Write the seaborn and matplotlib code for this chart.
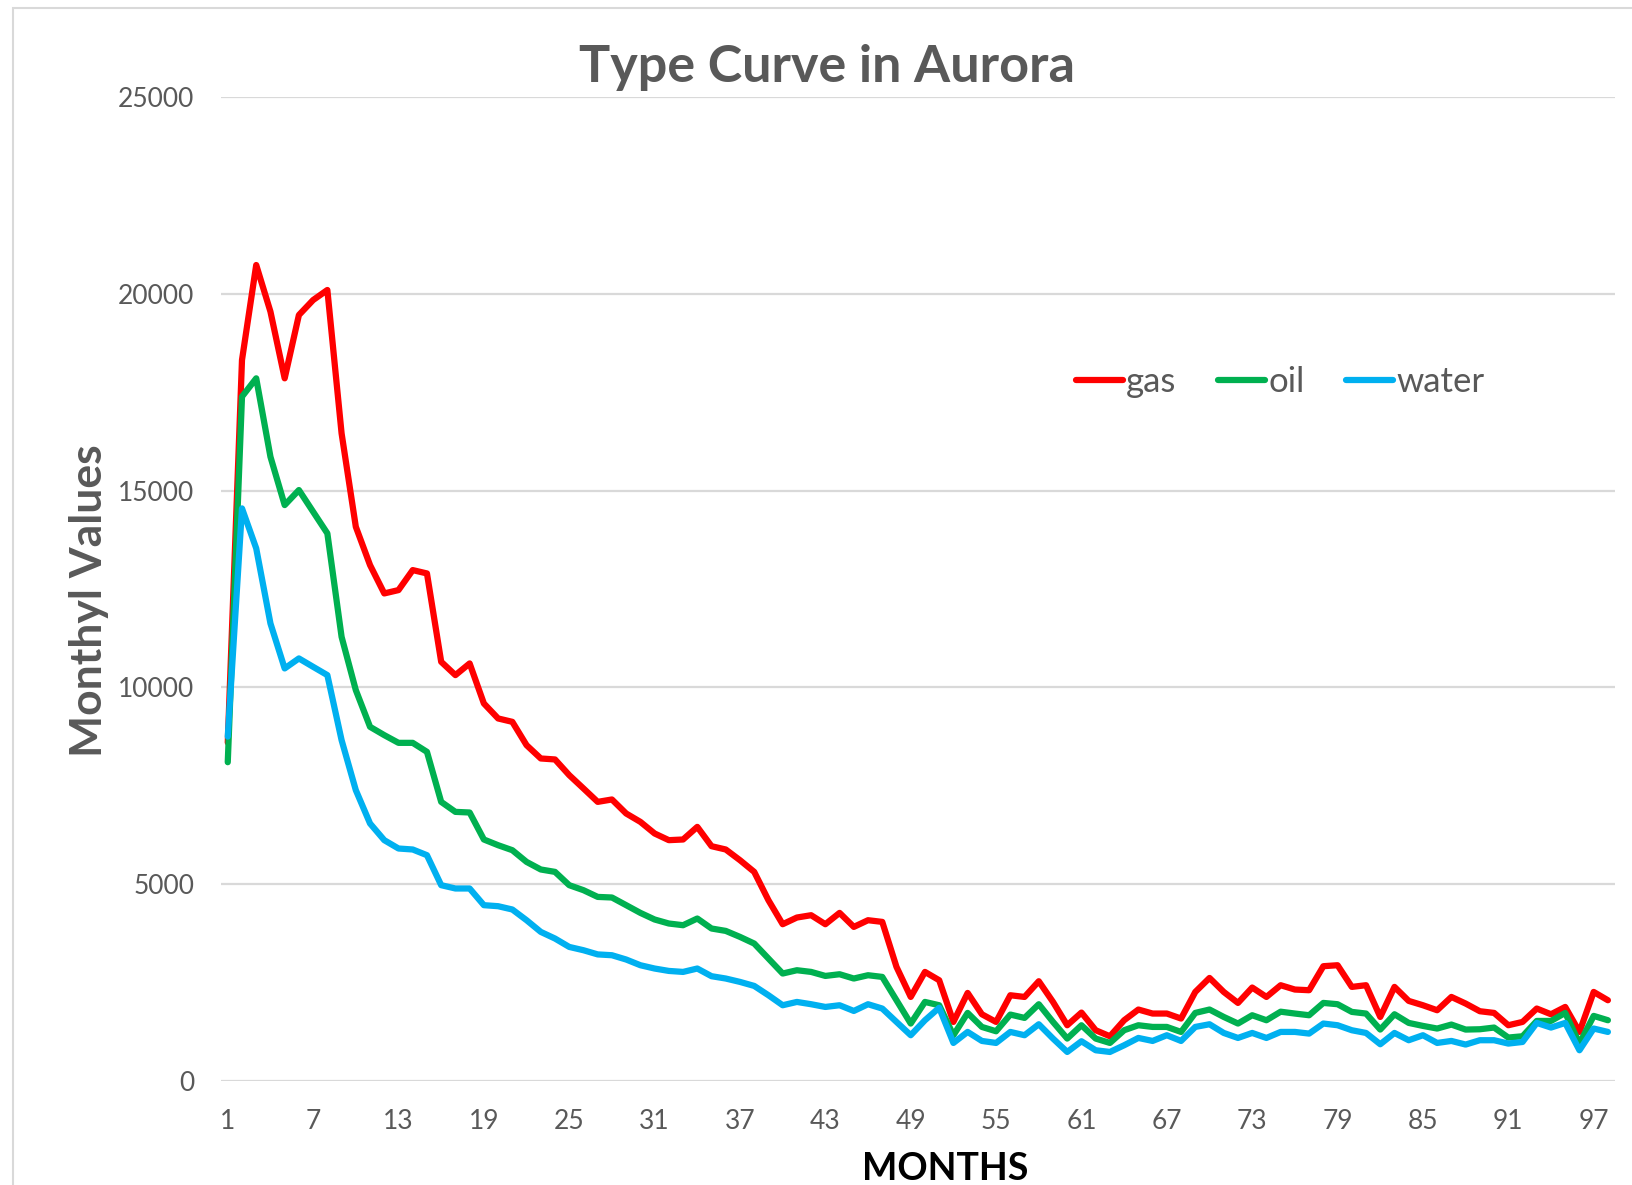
import pandas as pd
import seaborn as sns
import matplotlib.pyplot as plt
from matplotlib.patches import Rectangle

# Дані
months = list(range(1, 99))
gas = [8600, 18320, 20735, 19550, 17855, 19464, 19845, 20100, 16457, 14083,
       13109, 12389, 12474, 12982, 12897, 10652, 10313, 10610, 9593, 9212,
       9126, 8533, 8195, 8170, 7771, 7433, 7092, 7153, 6797, 6584,
       6289, 6119, 6136, 6457, 5966, 5882, 5610, 5313, 4593, 3983,
       4153, 4212, 3983, 4271, 3915, 4085, 4042, 2898, 2135, 2771,
       2560, 1500, 2237, 1695, 1500, 2178, 2135, 2534, 2008, 1416,
       1738, 1289, 1136, 1543, 1815, 1713, 1713, 1586, 2262, 2618,
       2262, 1983, 2374, 2135, 2433, 2323, 2306, 2916, 2941, 2390,
       2433, 1627, 2390, 2034, 1924, 1797, 2135, 1967, 1772, 1729,
       1416, 1500, 1840, 1695, 1881, 1246, 2262, 2051]
oil = [8100, 17390, 17855, 15862, 14634, 15016, 14465, 13915, 11286, 9932,
       8999, 8788, 8592, 8592, 8363, 7092, 6838, 6822, 6136, 5991,
       5864, 5567, 5374, 5313, 4975, 4848, 4677, 4662, 4467, 4271,
       4103, 4001, 3958, 4128, 3874, 3813, 3661, 3492, 3111, 2730,
       2814, 2771, 2669, 2712, 2603, 2687, 2644, 2051, 1459, 2008,
       1924, 1162, 1729, 1373, 1263, 1687, 1602, 1950, 1500, 1077,
       1416, 1077, 966, 1289, 1416, 1373, 1373, 1246, 1729, 1815,
       1627, 1459, 1670, 1543, 1760, 1713, 1670, 1983, 1950, 1755,
       1713, 1306, 1695, 1475, 1399, 1332, 1433, 1306, 1314, 1357,
       1103, 1136, 1525, 1525, 1729, 950, 1653, 1543]
water = [8750, 14550, 13534, 11627, 10483, 10737, 10524, 10313, 8661, 7390,
         6543, 6119, 5907, 5882, 5737, 4975, 4891, 4891, 4467, 4441,
         4357, 4085, 3788, 3619, 3406, 3322, 3216, 3195, 3086, 2941,
         2857, 2796, 2771, 2857, 2662, 2603, 2517, 2415, 2178, 1924,
         2008, 1950, 1881, 1924, 1779, 1950, 1840, 1500, 1162, 1543,
         1860, 966, 1246, 1017, 966, 1246, 1162, 1441, 1077, 737,
         1009, 780, 737, 907, 1093, 1017, 1162, 1017, 1373, 1441,
         1220, 1093, 1220, 1093, 1246, 1246, 1204, 1459, 1416, 1289,
         1220, 933, 1220, 1035, 1162, 966, 1017, 925, 1035, 1035,
         950, 991, 1475, 1357, 1475, 780, 1332, 1246]
x_ticks = list(range(1, 98, 6))
y_ticks = [0, 5000, 10000, 15000, 20000, 25000]

df = pd.DataFrame({'month': months, 'gas': gas, 'oil': oil, 'water': water})
df_long = df.melt(id_vars='month', var_name='series', value_name='value')

sns.set_style('white')
plt.rcParams['font.family'] = ['Lato', 'DejaVu Sans']
grey = '#595959'

fig = plt.figure(figsize=(16.32, 11.85), dpi=100)
ax = fig.add_axes([0.1352, 0.0878, 0.9896 - 0.1352, 0.918 - 0.0878])

palette = {'gas': '#FF0000', 'oil': '#00B050', 'water': '#00B0F0'}
sns.lineplot(data=df_long, x='month', y='value', hue='series', palette=palette,
             linewidth=4.5, ax=ax)

ax.set_xlim(0.5, 98.5)
ax.set_ylim(0, 25000)
ax.set_xticks(x_ticks)
ax.set_yticks(y_ticks)
ax.yaxis.grid(True, color='#d9d9d9', linewidth=1.6)
ax.set_axisbelow(True)
for s in ax.spines.values():
    s.set_visible(False)
ax.tick_params(axis='both', length=0, labelsize=19, labelcolor=grey)
ax.tick_params(axis='x', pad=20)
ax.tick_params(axis='y', pad=19)

ax.set_xlabel('MONTHS', fontsize=27, fontweight='bold', color='black', labelpad=16)
ax.xaxis.set_label_coords(0.5195, -0.072)
ax.set_ylabel('Monthyl Values', fontsize=32, fontweight='bold', color=grey, labelpad=6)
ax.yaxis.set_label_coords(-0.080, 0.488)

fig.text(0.507, 0.943, 'Type Curve in Aurora', fontsize=37.5, fontweight='bold',
         color=grey, ha='center', va='center')

leg = ax.legend(loc='center', bbox_to_anchor=(0.76, 0.71), ncol=3, frameon=False,
                fontsize=25, handlelength=1.35, handletextpad=0.1, columnspacing=1.2)
for t in leg.get_texts():
    t.set_color(grey)
for h in leg.get_lines():
    h.set_linewidth(4.5)

# рамка області діаграми
fig.patches.append(Rectangle((13 / 1632, -0.02), 1.0, 1 - 8 / 1185 + 0.02,
                             transform=fig.transFigure, fill=False,
                             edgecolor='#d9d9d9', linewidth=1.5))

fig.savefig('out.png', dpi=100)
